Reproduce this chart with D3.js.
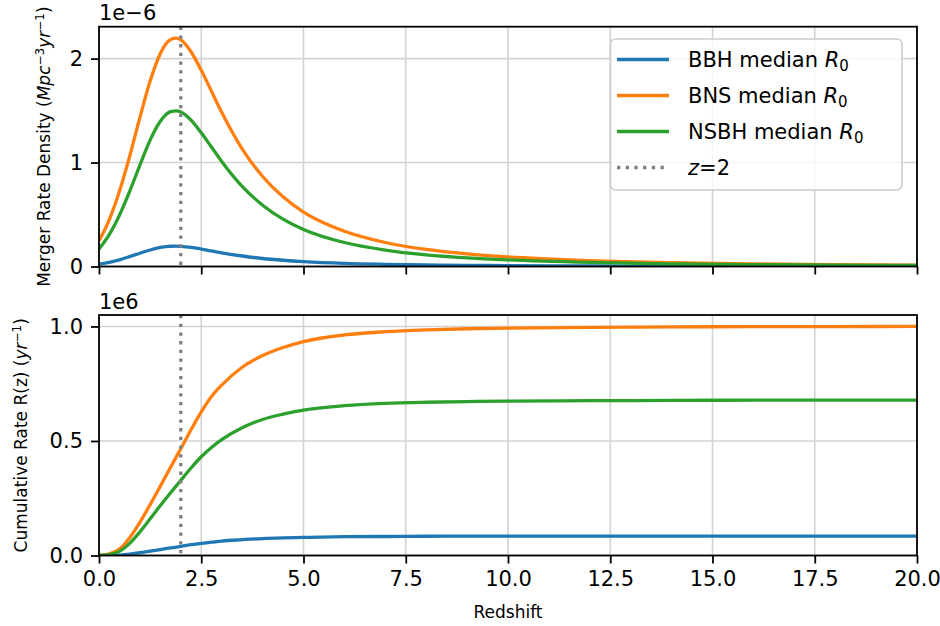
<!DOCTYPE html>
<html>
<head>
<meta charset="utf-8">
<script src="https://cdn.jsdelivr.net/npm/d3@7"></script>
<style>
  html, body { margin: 0; padding: 0; background: #fff; }
  svg { display: block; font-family: "DejaVu Sans", sans-serif; }
</style>
</head>
<body>
<svg id="chart" width="940" height="626"></svg>
<script>
// ---------------- data ----------------
const redshift = [0, 0.25, 0.5, 0.75, 1, 1.25, 1.5, 1.75, 1.9, 2, 2.25, 2.5, 2.75, 3, 3.5, 4, 4.5, 5, 6, 7, 8, 9, 10, 12, 14, 16, 18, 20];

// merger rate density, units of 1e-6 Mpc^-3 yr^-1
const bbhDensity  = [0.022, 0.040, 0.064, 0.095, 0.128, 0.159, 0.183, 0.195, 0.196, 0.194, 0.184, 0.168, 0.150, 0.132, 0.101, 0.077, 0.060, 0.047, 0.030, 0.021, 0.015, 0.011, 0.0082, 0.0050, 0.0033, 0.0023, 0.0017, 0.0013];
const bnsDensity  = [0.247, 0.449, 0.723, 1.061, 1.433, 1.784, 2.050, 2.184, 2.197, 2.180, 2.066, 1.887, 1.686, 1.483, 1.131, 0.866, 0.670, 0.523, 0.339, 0.231, 0.164, 0.121, 0.092, 0.057, 0.037, 0.026, 0.019, 0.014];
const nsbhDensity = [0.168, 0.306, 0.493, 0.723, 0.976, 1.216, 1.397, 1.489, 1.497, 1.486, 1.408, 1.286, 1.149, 1.011, 0.771, 0.590, 0.456, 0.357, 0.231, 0.158, 0.112, 0.083, 0.063, 0.039, 0.026, 0.018, 0.013, 0.0096];

// cumulative rate, units of 1e6 yr^-1
const bbhCumulative  = [0, 0.0005, 0.002, 0.006, 0.012, 0.019, 0.026, 0.033, 0.037, 0.040, 0.047, 0.053, 0.058, 0.063, 0.069, 0.074, 0.077, 0.079, 0.082, 0.083, 0.084, 0.0843, 0.0845, 0.0847, 0.0848, 0.0849, 0.085, 0.085];
const bnsCumulative  = [0, 0.007, 0.028, 0.078, 0.145, 0.222, 0.303, 0.385, 0.434, 0.466, 0.549, 0.627, 0.694, 0.744, 0.822, 0.873, 0.908, 0.934, 0.963, 0.977, 0.985, 0.990, 0.993, 0.996, 0.998, 0.999, 0.9995, 1.0];
const nsbhCumulative = [0, 0.004, 0.018, 0.053, 0.103, 0.160, 0.218, 0.274, 0.306, 0.328, 0.382, 0.431, 0.472, 0.506, 0.558, 0.594, 0.617, 0.635, 0.654, 0.664, 0.669, 0.672, 0.674, 0.676, 0.677, 0.678, 0.678, 0.678];

const seriesNames = ["BBH", "BNS", "NSBH"];
const seriesColors = ["#1f77b4", "#ff7f0e", "#2ca02c"];
const markerRedshift = 2;

const xTicks = [0, 2.5, 5, 7.5, 10, 12.5, 15, 17.5, 20];
const topYTicks = [0, 1, 2];
const bottomYTicks = [0, 0.5, 1.0];

// ---------------- layout ----------------
const svg = d3.select("#chart");
const left = 99, right = 917;
const topPanel = { top: 26.7, bottom: 266.5 };
const botPanel = { top: 315, bottom: 555.5 };
const tickFont = 21, labelFont = 17, legendFont = 21;

const x = d3.scaleLinear().domain([0, 20]).range([left, right]);
const densMax = d3.max(bnsDensity);
const yTop = d3.scaleLinear().domain([0, densMax * 1.05]).range([topPanel.bottom, topPanel.top]);
const cumMax = d3.max(bnsCumulative);
const yBot = d3.scaleLinear().domain([0, cumMax * 1.05]).range([botPanel.bottom, botPanel.top]);

function drawPanel(panel, y, yTicks, yFmt, seriesData, showXLabels, id) {
  const g = svg.append("g");
  svg.append("clipPath").attr("id", id)
    .append("rect").attr("x", left).attr("y", panel.top)
    .attr("width", right - left).attr("height", panel.bottom - panel.top);

  // grid
  const grid = g.append("g").attr("stroke", "#d3d3d3").attr("stroke-width", 1.6);
  xTicks.forEach(t => grid.append("line")
    .attr("x1", x(t)).attr("x2", x(t)).attr("y1", panel.top).attr("y2", panel.bottom));
  yTicks.forEach(t => grid.append("line")
    .attr("x1", left).attr("x2", right).attr("y1", y(t)).attr("y2", y(t)));

  // series
  const line = d3.line().x(d => x(d[0])).y(d => y(d[1])).curve(d3.curveMonotoneX);
  const plot = g.append("g").attr("clip-path", `url(#${id})`);
  seriesData.forEach((vals, i) => {
    plot.append("path")
      .datum(redshift.map((zv, k) => [zv, vals[k]]))
      .attr("d", line)
      .attr("fill", "none")
      .attr("stroke", seriesColors[i])
      .attr("stroke-width", 3.3)
      .attr("stroke-linejoin", "round")
      .attr("stroke-linecap", "butt");
  });
  // z = 2 marker
  plot.append("line")
    .attr("x1", x(markerRedshift)).attr("x2", x(markerRedshift))
    .attr("y1", panel.top).attr("y2", panel.bottom)
    .attr("stroke", "#808080").attr("stroke-width", 3.3)
    .attr("stroke-dasharray", "3.3,5.4");

  // axes
  const xAxis = d3.axisBottom(x).tickValues(xTicks).tickSize(8).tickPadding(8)
    .tickFormat(showXLabels ? d3.format(".1f") : () => "");
  const gx = g.append("g").attr("transform", `translate(0,${panel.bottom})`).call(xAxis);
  const yAxis = d3.axisLeft(y).tickValues(yTicks).tickSize(8).tickPadding(8).tickFormat(yFmt);
  const gy = g.append("g").attr("transform", `translate(${left},0)`).call(yAxis);
  [gx, gy].forEach(a => {
    a.select(".domain").remove();
    a.selectAll(".tick line").attr("stroke", "#000").attr("stroke-width", 1.8);
    a.selectAll(".tick text").attr("fill", "#000")
      .style("font-size", tickFont + "px").style("font-family", "DejaVu Sans");
  });

  // spines
  g.append("rect").attr("x", left).attr("y", panel.top)
    .attr("width", right - left).attr("height", panel.bottom - panel.top)
    .attr("fill", "none").attr("stroke", "#000").attr("stroke-width", 1.8);
  return g;
}

drawPanel(topPanel, yTop, topYTicks, d3.format("d"), [bbhDensity, bnsDensity, nsbhDensity], false, "clipTop");
drawPanel(botPanel, yBot, bottomYTicks, d3.format(".1f"), [bbhCumulative, bnsCumulative, nsbhCumulative], true, "clipBot");

// offset texts
svg.append("text").attr("x", left).attr("y", 20)
  .style("font-size", tickFont + "px").text("1e\u22126");
svg.append("text").attr("x", left).attr("y", 308.5)
  .style("font-size", tickFont + "px").text("1e6");

// y labels
const yl1 = svg.append("text")
  .attr("transform", `translate(50,${(topPanel.top + topPanel.bottom) / 2}) rotate(-90)`)
  .attr("text-anchor", "middle").style("font-size", labelFont + "px");
yl1.append("tspan").text("Merger Rate Density (");
yl1.append("tspan").style("font-style", "italic").text("Mpc");
yl1.append("tspan").attr("dy", -6).style("font-size", "12px").text("\u22123");
yl1.append("tspan").attr("dy", 6).style("font-style", "italic").text("yr");
yl1.append("tspan").attr("dy", -6).style("font-size", "12px").text("\u22121");
yl1.append("tspan").attr("dy", 6).text(")");

const yl2 = svg.append("text")
  .attr("transform", `translate(27,${(botPanel.top + botPanel.bottom) / 2}) rotate(-90)`)
  .attr("text-anchor", "middle").style("font-size", labelFont + "px");
yl2.append("tspan").text("Cumulative Rate R(z) (");
yl2.append("tspan").style("font-style", "italic").text("yr");
yl2.append("tspan").attr("dy", -6).style("font-size", "12px").text("\u22121");
yl2.append("tspan").attr("dy", 6).text(")");

// x label
svg.append("text").attr("x", (left + right) / 2).attr("y", 618)
  .attr("text-anchor", "middle").style("font-size", labelFont + "px").text("Redshift");

// legend
const lg = svg.append("g");
lg.append("rect").attr("x", 610.5).attr("y", 39).attr("width", 291.5).attr("height", 151)
  .attr("rx", 5).attr("fill", "#fff").attr("fill-opacity", 0.8)
  .attr("stroke", "#cccccc").attr("stroke-width", 1.6);
const rowY = [59.5, 95.5, 131.5, 167.5];
seriesNames.forEach((name, i) => {
  lg.append("line").attr("x1", 617).attr("x2", 669).attr("y1", rowY[i]).attr("y2", rowY[i])
    .attr("stroke", seriesColors[i]).attr("stroke-width", 3.3);
  const t = lg.append("text").attr("x", 688).attr("y", rowY[i] + 7.5)
    .style("font-size", legendFont + "px");
  t.append("tspan").text(name + " median ");
  t.append("tspan").style("font-style", "italic").text("R");
  t.append("tspan").attr("dy", 4).style("font-size", "15px").text("0");
});
lg.append("line").attr("x1", 617).attr("x2", 669).attr("y1", rowY[3]).attr("y2", rowY[3])
  .attr("stroke", "#808080").attr("stroke-width", 3.3).attr("stroke-dasharray", "3.3,5.4");
const tz = lg.append("text").attr("x", 688).attr("y", rowY[3] + 7.5).style("font-size", legendFont + "px");
tz.append("tspan").style("font-style", "italic").text("z");
tz.append("tspan").text("=2");
</script>
</body>
</html>
